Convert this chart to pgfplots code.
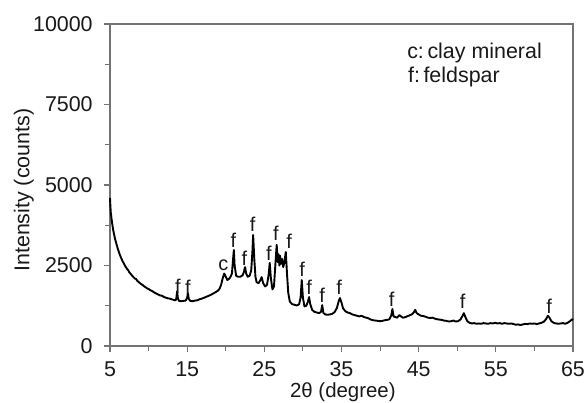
\documentclass[border=0pt]{standalone}
\usepackage{pgfplots}
\pgfplotsset{compat=1.18}
\usepackage{fontspec}
\setmainfont{Liberation Sans}
\begin{document}
\fontsize{21.5}{25}\selectfont
\begin{tikzpicture}
\useasboundingbox (-110bp,-57bp) rectangle (475bp,346bp);
\begin{axis}[
 scale only axis, width=463bp, height=322bp,
 xmin=5,xmax=65,ymin=0,ymax=10000,
 xtick={5,15,...,65}, minor xtick={10,20,...,60},
 ytick={0,2500,...,10000}, minor ytick={1250,3750,6250,8750},
 tick align=outside, tick pos=left,
 major tick length=6bp, minor tick length=5bp,
 axis line style={draw=black!55, line width=1.1bp},
 tick style={draw=black!55, line width=1.1bp},
 scaled y ticks=false,
 yticklabel style={/pgf/number format/1000 sep={}, xshift=-4bp},
 xticklabel style={yshift=-2bp},
 /pgf/number format/assume math mode=true,
 ticklabel style={font=\fontsize{21.5}{25}\selectfont, text=black!90},
 xlabel={2θ (degree)}, ylabel={Intensity (counts)},
 label style={font=\fontsize{21.5}{25}\selectfont, text=black!90},
 xlabel style={at={(axis description cs:0.503,-0.145)},anchor=center, font=\fontsize{20.5}{24}\selectfont},
 ylabel style={at={(axis description cs:-0.186,0.484)},anchor=center},
 clip=false,
]
\addplot[black, line width=1.9bp, line join=round] coordinates {
(5.00,4600)(5.05,4350)(5.10,4150)(5.20,3950)(5.30,3780)(5.40,3620)(5.50,3500)(5.65,3330)(5.80,3200)
(6.00,3030)(6.20,2880)(6.40,2760)(6.60,2650)(6.80,2560)(7.00,2470)(7.25,2380)(7.40,2340)(7.50,2290)(7.75,2220)
(8.00,2150)(8.25,2090)(8.40,2080)(8.50,2030)(8.75,1980)(9.00,1930)(9.25,1890)(9.50,1840)(9.75,1800)
(10.00,1770)(10.25,1730)(10.50,1700)(10.75,1660)(11.00,1630)(11.25,1600)(11.50,1570)(11.75,1560)
(12.00,1520)(12.25,1500)(12.50,1480)(12.75,1470)(13.00,1450)(13.25,1430)(13.50,1420)(13.60,1480)
(13.70,1700)(13.80,1480)(13.95,1400)(14.20,1390)(14.50,1400)(14.80,1410)(15.00,1500)(15.10,1640)
(15.20,1470)(15.40,1400)(15.70,1390)(16.00,1410)(16.30,1420)(16.60,1450)(17.00,1480)(17.30,1510)
(17.60,1540)(18.00,1580)(18.30,1620)(18.60,1660)(19.00,1720)(19.20,1780)(19.40,1900)(19.60,2100)
(19.80,2250)(19.95,2180)(20.20,2050)(20.40,2080)(20.60,2140)(20.80,2250)(20.95,2700)(21.05,2980)
(21.15,2500)(21.35,2180)(21.60,2150)(21.90,2150)(22.20,2200)(22.35,2300)(22.50,2450)(22.65,2250)
(22.85,2150)(23.10,2180)(23.30,2350)(23.45,2900)(23.55,3450)(23.70,2700)(23.85,2150)(24.00,1980)
(24.25,1950)(24.50,2050)(24.65,2140)(24.85,1950)(25.10,1850)(25.35,1900)(25.55,2200)(25.70,2580)
(25.85,2100)(26.05,1760)(26.25,1850)(26.45,2600)(26.60,3140)(26.75,2600)(26.85,2850)(26.95,2500)
(27.05,2800)(27.15,2550)(27.30,2700)(27.45,2450)(27.60,2600)(27.78,2920)(27.95,2200)(28.10,1650)
(28.30,1380)(28.60,1300)(28.90,1280)(29.20,1260)(29.50,1290)(29.70,1500)(29.85,2050)(30.00,1500)
(30.20,1230)(30.45,1250)(30.65,1380)(30.80,1520)(30.95,1300)(31.20,1120)(31.50,1060)(31.80,1040)
(32.10,1020)(32.35,1060)(32.50,1270)(32.65,1030)(32.90,980)(33.20,970)(33.50,980)(33.80,1000)
(34.10,1050)(34.40,1180)(34.65,1400)(34.80,1490)(35.00,1350)(35.20,1170)(35.50,1080)(35.80,1040)
(36.10,1020)(36.40,980)(36.70,960)(37.00,940)(37.30,920)(37.60,940)(37.90,900)(38.20,880)
(38.50,860)(38.80,820)(39.10,800)(39.40,790)(39.70,780)(40.00,770)(40.30,780)(40.60,800)
(40.90,810)(41.20,830)(41.45,950)(41.60,1150)(41.75,920)(41.95,900)(42.20,880)(42.50,960)
(42.70,920)(42.95,880)(43.20,890)(43.50,920)(43.80,950)(44.10,980)(44.35,1040)(44.55,1120)
(44.75,1020)(45.00,980)(45.30,940)(45.60,930)(45.90,910)(46.20,880)(46.50,870)(46.80,880)
(47.10,850)(47.40,830)(47.70,820)(48.00,810)(48.30,790)(48.60,780)(48.90,760)(49.20,770)
(49.50,790)(49.80,760)(50.10,770)(50.40,820)(50.65,920)(50.85,1020)(51.05,900)(51.30,770)
(51.60,720)(51.90,700)(52.20,710)(52.50,690)(52.80,700)(53.10,690)(53.40,710)(53.70,700)
(54.00,690)(54.30,710)(54.60,700)(54.90,720)(55.20,700)(55.50,710)(55.80,690)(56.10,710)
(56.40,700)(56.70,690)(57.00,700)(57.30,680)(57.60,660)(57.90,670)(58.20,650)(58.50,670)
(58.80,690)(59.10,680)(59.40,700)(59.70,690)(60.00,700)(60.30,680)(60.60,700)(60.90,720)
(61.20,750)(61.50,830)(61.75,940)(61.95,880)(62.20,770)(62.50,720)(62.80,700)(63.10,690)
(63.40,700)(63.70,710)(64.00,690)(64.30,720)(64.60,770)(64.90,830)(65.00,800)
};
\begin{scope}[every node/.style={font=\fontsize{20}{22}\selectfont, inner sep=0pt, anchor=center, text=black!90}]
\node at (axis cs:13.8,1860) {f};
\node at (axis cs:15.1,1830) {f};
\node at (axis cs:19.7,2520) {c};
\node at (axis cs:21.0,3290) {f};
\node at (axis cs:22.4,2730) {f};
\node at (axis cs:23.5,3790) {f};
\node at (axis cs:25.6,2890) {f};
\node at (axis cs:26.5,3510) {f};
\node at (axis cs:28.2,3260) {f};
\node at (axis cs:29.9,2390) {f};
\node at (axis cs:30.8,1830) {f};
\node at (axis cs:32.5,1580) {f};
\node at (axis cs:34.7,1830) {f};
\node at (axis cs:41.5,1460) {f};
\node at (axis cs:50.7,1380) {f};
\node at (axis cs:61.9,1220) {f};
\end{scope}
\node[anchor=west, inner sep=0pt, font=\fontsize{21.5}{25}\selectfont, text=black!90] at (axis cs:43.5,9100) {c:\,clay mineral};
\node[anchor=west, inner sep=0pt, font=\fontsize{21.5}{25}\selectfont, text=black!90] at (axis cs:43.6,8350) {f:\,feldspar};
\end{axis}
\end{tikzpicture}
\end{document}
